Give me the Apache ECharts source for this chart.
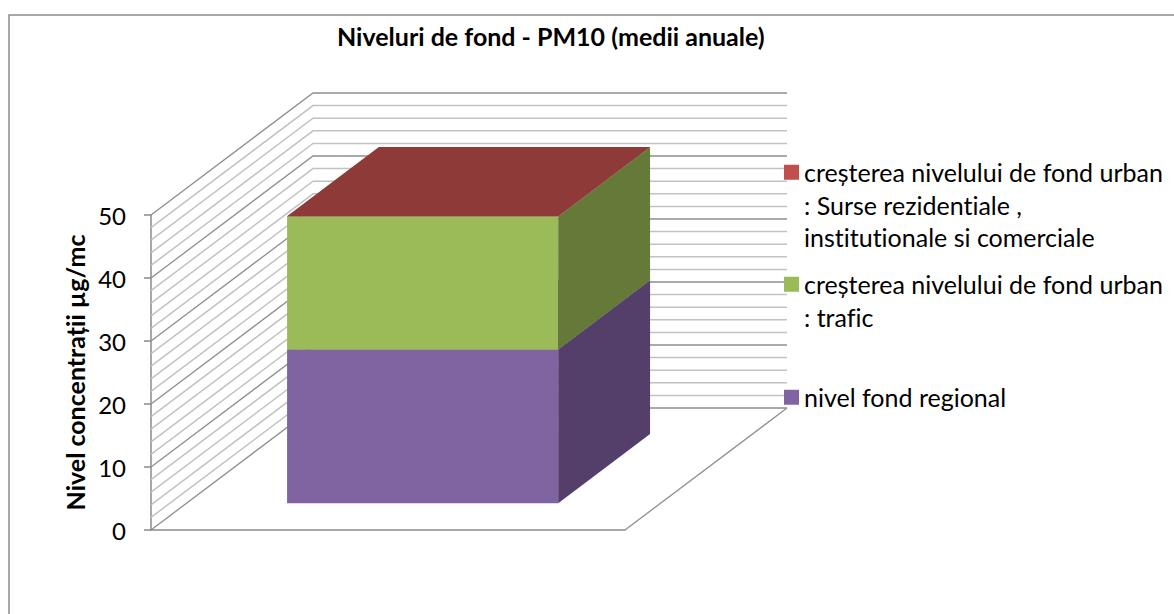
<!DOCTYPE html>
<html>
<head>
<meta charset="utf-8">
<style>html,body{margin:0;padding:0;background:#fff}#c{width:1174px;height:614px}
#c text{font-variant-ligatures:none;font-feature-settings:"liga" 0,"clig" 0}</style>
<script src="https://cdn.jsdelivr.net/npm/echarts@6/dist/echarts.min.js"></script>
</head>
<body>
<div id="c"></div>
<script>
var categories = [""];
var seriesNames = [
  "nivel fond regional",
  "creșterea nivelului de fond urban : trafic",
  "creșterea nivelului de fond urban : Surse rezidentiale , institutionale si comerciale"
];
var nivelFondRegional = [24.4];
var cresterTrafic = [21.1];
var cresterRezidential = [0.05];
var gridLevels = [0,2,4,6,8,10,12,14,16,18,20,22,24,26,28,30,32,34,36,38,40,42,44,46,48,50];
var axisTitle = "Nivel concentrații µg/mc";
var chartTitle = "Niveluri de fond - PM10 (medii anuale)";

var FONT = "Lato";
var DX = 162, DY = 122;
var BAR_FRONT = 0.22, BAR_BACK = 0.787, BAR_WIDTH = 0.572, BAR_SHIFT = -1;
var FACE = [
  {front:"#8064A2", side:"#533F69", top:"#6A5388"},
  {front:"#9BBB59", side:"#657A39", top:"#7E9848"},
  {front:"#C0504D", side:"#7F3533", top:"#8E3A38"}
];

function poly(pts, fill){
  return {type:"polygon", shape:{points:pts}, style:{fill:fill, stroke:null}};
}
function renderBar(params, api){
  var cs = params.coordSys, f = FACE[params.seriesIndex - 1];
  var c = api.coord([api.value(0), api.value(1)]);
  var t = api.coord([api.value(0), api.value(2)]);
  var w = cs.width * BAR_WIDTH;
  var x0 = c[0] - w/2 + BAR_SHIFT + DX*BAR_FRONT, x1 = x0 + w;
  var yb = c[1] - DY*BAR_FRONT, yt = t[1] - DY*BAR_FRONT;
  var ddx = DX*(BAR_BACK-BAR_FRONT), ddy = DY*(BAR_BACK-BAR_FRONT);
  return {type:"group", children:[
    poly([[x0,yb],[x1,yb],[x1,yt],[x0,yt]], f.front),
    poly([[x1,yb],[x1+ddx,yb-ddy],[x1+ddx,yt-ddy],[x1,yt]], f.side),
    poly([[x0,yt],[x1,yt],[x1+ddx,yt-ddy],[x0+ddx,yt-ddy]], f.top)
  ]};
}
function renderGrid(params, api){
  var cs = params.coordSys, v = api.value(1);
  var y = api.coord([0, v])[1];
  var l = cs.x, r = cs.x + cs.width;
  var major = v % 10 === 0;
  var style = {stroke: major ? "#8F8F8F" : "#C2C2C2", lineWidth: major ? 1.3 : 1.5, fill:null};
  var kids = [{type:"polyline", shape:{points:[[l,y],[l+DX,y-DY],[r+DX,y-DY]]}, style:style}];
  if (v === 0) kids.push({type:"polyline", shape:{points:[[r,y],[r+DX,y-DY]]}, style:style});
  return {type:"group", children:kids};
}
function stack(){
  var out = [];
  var all = [nivelFondRegional, cresterTrafic, cresterRezidential], run = 0;
  all.forEach(function(a){ out.push([[0, run, run + a[0]]]); run += a[0]; });
  return out;
}
var stacked = stack();
function barSeries(i){
  return {
    type:"custom", name:seriesNames[i], renderItem:renderBar, data:stacked[i], z:3,
    itemStyle:{color:FACE[i].front}, encode:{x:0,y:[1,2]}, silent:true, animation:false
  };
}
var wrapped = {};
wrapped[seriesNames[0]] = "nivel fond regional";
wrapped[seriesNames[1]] = "creșterea nivelului de fond urban\n: trafic";
wrapped[seriesNames[2]] = "creșterea nivelului de fond urban\n: Surse rezidentiale ,\ninstitutionale si comerciale";
function legendFor(i, top, h){
  return {
    data:[{name:seriesNames[i], icon:"path://M0 0H15V15H0Z M0 " + h + "H15V" + h + "H0Z"}],
    left:784, top:top, orient:"vertical", padding:0, itemWidth:15, itemHeight:h,
    selectedMode:false, itemStyle:{borderWidth:0},
    formatter:function(n){return wrapped[n];},
    textStyle:{fontFamily:FONT, fontSize:25, color:"#000", lineHeight:32.5}
  };
}
var chart = echarts.init(document.getElementById("c"), null, {renderer:"svg"});
chart.setOption({
  animation:false,
  backgroundColor:"#fff",
  title:{text:chartTitle, left:337, top:23, padding:0,
    textStyle:{fontFamily:FONT, fontSize:25, fontWeight:"bold", color:"#000"}},
  grid:{left:151, top:215, width:474, height:315, containLabel:false},
  legend:[legendFor(2,156,80), legendFor(1,268,47.5), {
    data:[{name:seriesNames[0], icon:"rect"}], left:784, top:381, padding:0, itemWidth:15, itemHeight:15,
    selectedMode:false, itemStyle:{borderWidth:0},
    textStyle:{fontFamily:FONT, fontSize:25, color:"#000", lineHeight:32.5}
  }],
  xAxis:{type:"category", data:categories, axisTick:{show:false}, axisLabel:{show:false},
    axisLine:{show:true, lineStyle:{color:"#8A8A8A", width:1.5}}, splitLine:{show:false}},
  yAxis:{type:"value", min:0, max:50, interval:10,
    name:axisTitle, nameLocation:"middle", nameGap:64, nameRotate:90,
    nameTextStyle:{fontFamily:FONT, fontSize:25, fontWeight:"bold", color:"#000"},
    axisLine:{show:true, lineStyle:{color:"#8A8A8A", width:1.5}},
    axisTick:{show:true, length:7, lineStyle:{color:"#8A8A8A", width:1.5}},
    axisLabel:{margin:25, fontFamily:FONT, fontSize:24, color:"#000"},
    splitLine:{show:false}},
  graphic:[{type:"polyline", silent:true, shape:{points:[[9,614],[9,15],[1174,15]]},
    style:{stroke:"#8C8C8C", lineWidth:1.5, fill:null}}],
  series:[
    {type:"custom", name:"grid", renderItem:renderGrid, z:1, silent:true,
     data:gridLevels.map(function(v){return [0,v];}), encode:{x:0,y:1}},
    barSeries(0), barSeries(1), barSeries(2)
  ]
});
</script>
</body>
</html>
